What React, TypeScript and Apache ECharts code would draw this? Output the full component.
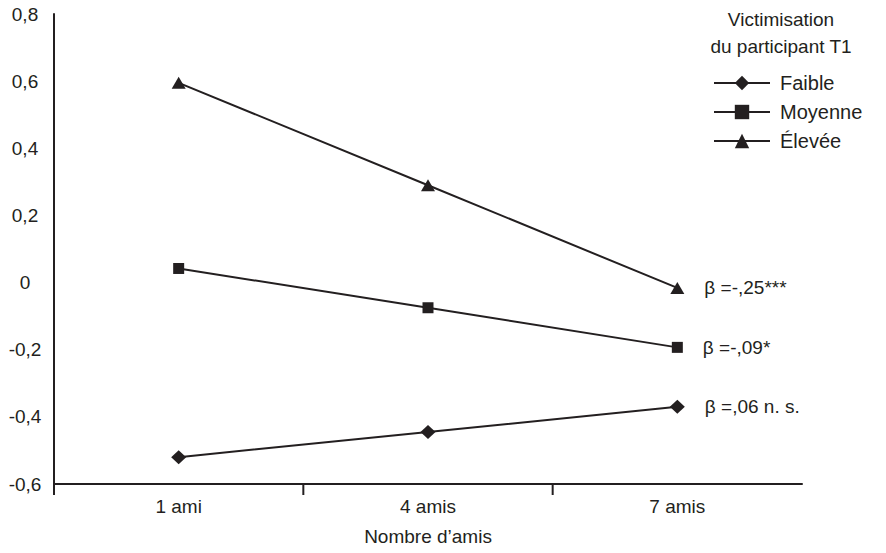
import React, { useEffect, useRef } from "react";
import * as echarts from "echarts";

const categories = ["1 ami", "4 amis", "7 amis"];
const seriesNames = ["Faible", "Moyenne", "Élevée"];
const faible = [-0.52, -0.445, -0.37];
const moyenne = [0.042, -0.075, -0.193];
const elevee = [0.595, 0.29, -0.016];
const betaLabels = ["β =,06 n. s.", "β =-,09*", "β =-,25***"];
const yTicks = { min: -0.6, max: 0.8, interval: 0.2 };

const INK = "#231f20";
const FONT = "Liberation Sans, Arial, sans-serif";

export default function App() {
  const ref = useRef<HTMLDivElement>(null);
  useEffect(() => {
    if (!ref.current) return;
    const chart = echarts.init(ref.current, undefined, { renderer: "svg" });
    const symbols = ["diamond", "rect", "triangle"];
    const sizes: any[] = [[15, 14], [11, 11], [14, 12]];
    const datas = [faible, moyenne, elevee];
    const series: any[] = datas.map((d, i) => ({
      name: seriesNames[i],
      type: "line",
      symbol: symbols[i],
      symbolSize: sizes[i],
      lineStyle: { color: INK, width: 2 },
      itemStyle: { color: INK },
      data: d.map((v, j) =>
        j === d.length - 1
          ? {
              value: v,
              label: {
                show: true,
                position: "right",
                distance: 20,
                formatter: betaLabels[i],
                color: INK,
                fontSize: 19,
                fontFamily: FONT,
              },
            }
          : v
      ),
    }));
    // x-axis ticks at the left boundary of each category band
    series.push({
      type: "custom",
      silent: true,
      clip: false,
      data: categories.map((_, i) => [i, yTicks.min]),
      renderItem: (params: any, api: any) => {
        const p = api.coord([api.value(0), api.value(1)]);
        const band = api.size([1, 0])[0];
        const x = p[0] - band / 2;
        return {
          type: "line",
          shape: { x1: x, y1: p[1], x2: x, y2: p[1] + 11 },
          style: { stroke: INK, lineWidth: 2 },
        };
      },
    });
    chart.setOption({
      animation: false,
      textStyle: { fontFamily: FONT, color: INK },
      title: {
        text: "Victimisation\ndu participant T1",
        left: 776,
        top: 1,
        textAlign: "center",
        textStyle: { fontSize: 19, fontWeight: "normal", color: INK, lineHeight: 27, fontFamily: FONT },
      },
      legend: {
        orient: "vertical",
        left: 708,
        top: 68,
        itemWidth: 56,
        itemHeight: 18,
        itemGap: 9,
        data: seriesNames,
        textStyle: { fontSize: 20, color: INK, fontFamily: FONT, padding: [0, 0, 0, 5] },
      },
      grid: { left: 54, right: 84, top: 14, bottom: 69 },
      xAxis: {
        type: "category",
        data: categories,
        boundaryGap: true,
        axisLine: { onZero: false, lineStyle: { color: INK, width: 2 } },
        axisTick: { show: false },
        axisLabel: { color: INK, fontSize: 19, margin: 13, fontFamily: FONT },
        name: "Nombre d’amis",
        nameLocation: "middle",
        nameGap: 43,
        nameTextStyle: { color: INK, fontSize: 19, fontFamily: FONT },
      },
      yAxis: {
        type: "value",
        min: yTicks.min,
        max: yTicks.max,
        interval: yTicks.interval,
        axisLine: { show: true, lineStyle: { color: INK, width: 2 } },
        axisTick: { show: false },
        splitLine: { show: false },
        axisLabel: {
          color: INK,
          fontSize: 19,
          align: "center",
          margin: 29,
          fontFamily: FONT,
          formatter: (v: number) => {
            const r = Math.round(v * 10) / 10;
            return r === 0 ? "0" : String(r).replace(".", ",");
          },
        },
      },
      series,
    });
    return () => chart.dispose();
  }, []);
  return (
    <div
      ref={ref}
      style={{ position: "absolute", left: 0, top: 0, width: 886, height: 553 }}
    />
  );
}
